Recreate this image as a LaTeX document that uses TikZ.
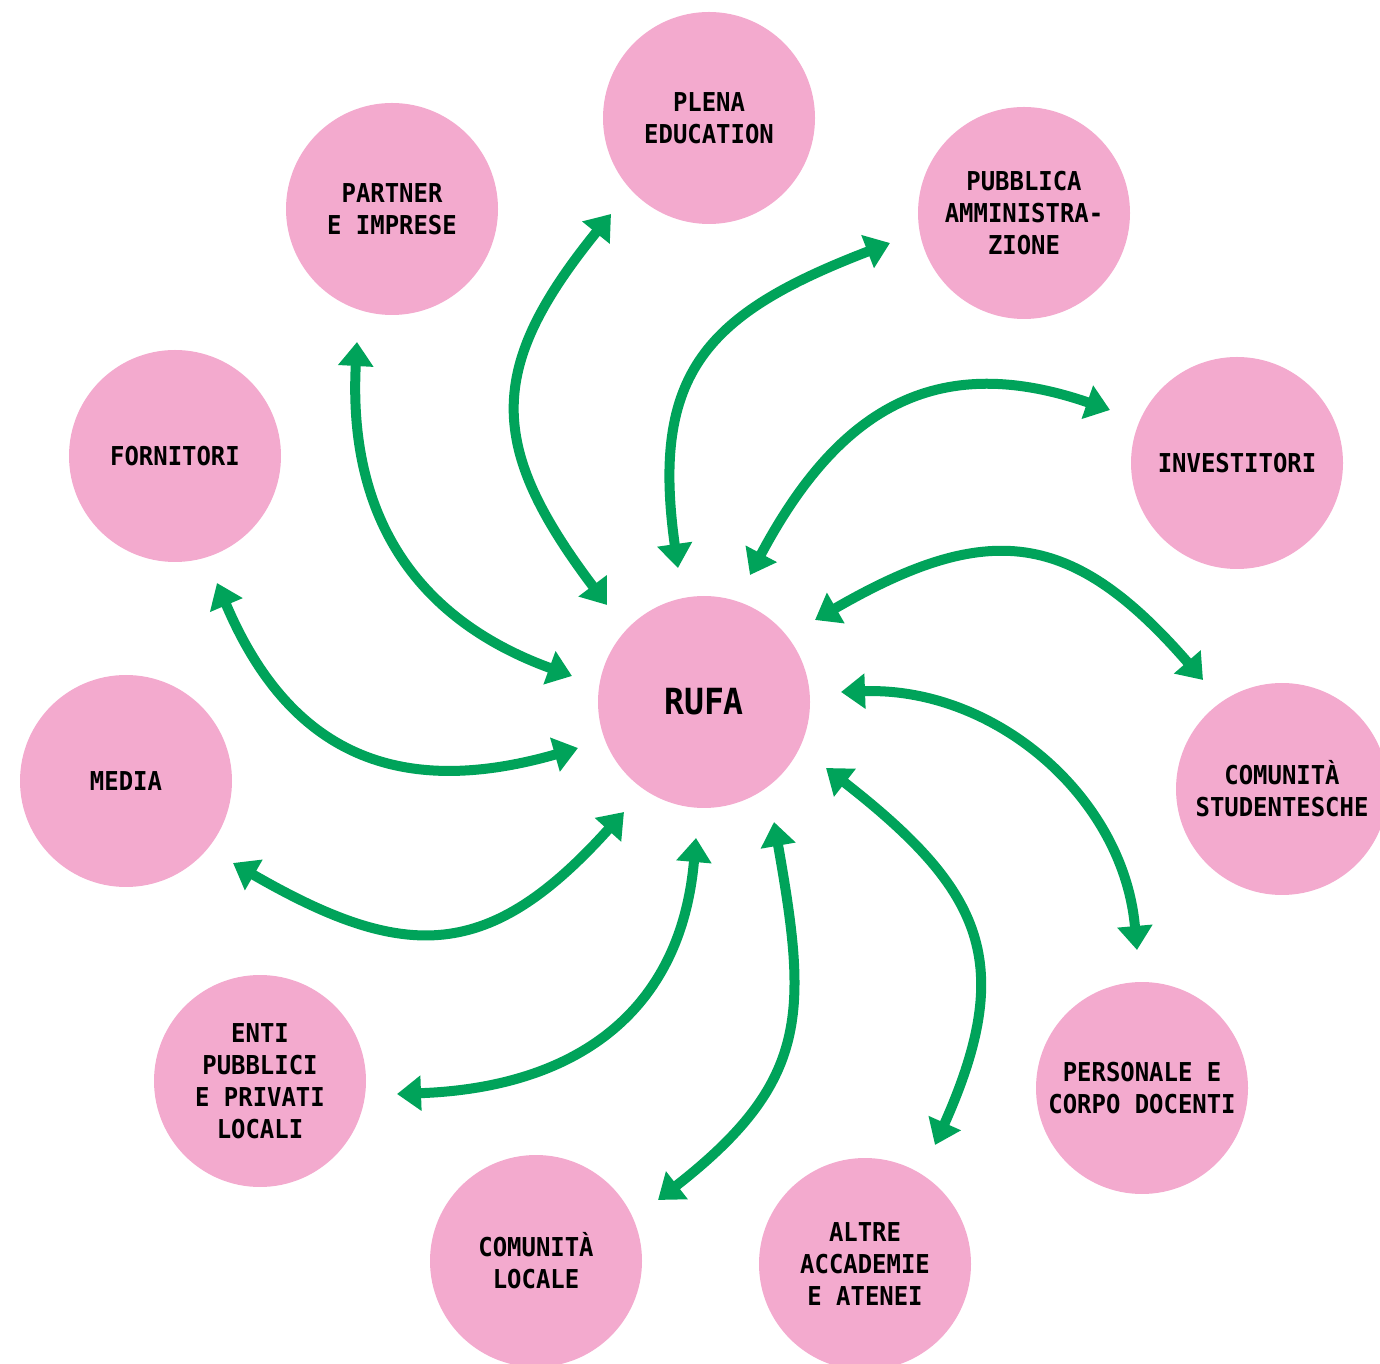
\documentclass[tikz,border=0pt]{standalone}
\usepackage{fontspec}
\newfontfamily\labelfont[FakeStretch=0.92]{DejaVu Sans Mono Bold}
\usepackage{tikz}
\usetikzlibrary{arrows.meta}

\definecolor{rufapink}{RGB}{243,170,206}
\definecolor{rufagreen}{RGB}{0,163,90}

\begin{document}
\begin{tikzpicture}[x=1pt, y=1pt,
    actor/.style={circle, fill=rufapink, minimum size=212pt, inner sep=0pt, align=center,
        font=\labelfont\fontsize{26}{32}\selectfont},
    link/.style={rufagreen, line width=10pt,
        {Triangle[length=24pt,width=34pt]}-{Triangle[length=24pt,width=34pt]}}]
    \useasboundingbox (0,0) rectangle (1380,1363);

    % Centre
    \node[actor, font=\labelfont\fontsize{36}{40}\selectfont] (rufa) at (704,661) {RUFA};

    % Stakeholders around
    \node[actor] (plena)       at (709,1245) {PLENA\\EDUCATION};
    \node[actor] (partner)     at (392,1154) {PARTNER\\E IMPRESE};
    \node[actor] (pubblica)    at (1024,1150) {PUBBLICA\\AMMINISTRA-\\ZIONE};
    \node[actor] (fornitori)   at (175,907) {FORNITORI};
    \node[actor] (investitori) at (1237,900) {INVESTITORI};
    \node[actor] (media)       at (126,582) {MEDIA};
    \node[actor] (studenti)    at (1282,574) {COMUNITÀ\\STUDENTESCHE};
    \node[actor] (enti)        at (260,282) {ENTI\\PUBBLICI\\E PRIVATI\\LOCALI};
    \node[actor] (docenti)     at (1142,275) {PERSONALE E\\CORPO DOCENTI};
    \node[actor] (locale)      at (536,102) {COMUNITÀ\\LOCALE};
    \node[actor] (accademie)   at (865,99) {ALTRE\\ACCADEMIE\\E ATENEI};

    % Arrow ends near RUFA
    \coordinate (r-plena)       at (607,758);
    \coordinate (r-partner)     at (572,687);
    \coordinate (r-pubblica)    at (678,795);
    \coordinate (r-investitori) at (750,788);
    \coordinate (r-studenti)    at (815,743);
    \coordinate (r-docenti)     at (841,671);
    \coordinate (r-accademie)   at (826,595);
    \coordinate (r-locale)      at (774,541);
    \coordinate (r-enti)        at (696,525);
    \coordinate (r-media)       at (624,551);
    \coordinate (r-fornitori)   at (578,615);

    % Arrow ends near the stakeholders
    \coordinate (s-plena)       at (611,1149);
    \coordinate (s-partner)     at (357,1021);
    \coordinate (s-pubblica)    at (890,1120);
    \coordinate (s-investitori) at (1110,953);
    \coordinate (s-studenti)    at (1203,683);
    \coordinate (s-docenti)     at (1137,413);
    \coordinate (s-accademie)   at (935,218);
    \coordinate (s-locale)      at (658,163);
    \coordinate (s-enti)        at (397,269);
    \coordinate (s-media)       at (233,500);
    \coordinate (s-fornitori)   at (217,780);

    % Two-way relations
    \draw[link] (r-plena)       to[out=127, in=231, looseness=1.3]  (s-plena);
    \draw[link] (r-partner)     to[out=160, in=267, looseness=1.1]  (s-partner);
    \draw[link] (r-pubblica)    to[out=98,  in=201, looseness=1.3]  (s-pubblica);
    \draw[link] (r-investitori) to[out=62,  in=161, looseness=1.2]  (s-investitori);
    \draw[link] (r-studenti)    to[out=30,  in=131, looseness=1.3]  (s-studenti);
    \draw[link] (r-docenti)     to[out=2,   in=95]                  (s-docenti);
    \draw[link] (r-accademie)   to[out=322, in=66,  looseness=1.3]  (s-accademie);
    \draw[link] (r-locale)      to[out=280, in=38,  looseness=1.25] (s-locale);
    \draw[link] (r-enti)        to[out=265, in=2,   looseness=1.15] (s-enti);
    \draw[link] (r-media)       to[out=228, in=330, looseness=1.3]  (s-media);
    \draw[link] (r-fornitori)   to[out=196, in=293, looseness=1.2]  (s-fornitori);
\end{tikzpicture}
\end{document}
